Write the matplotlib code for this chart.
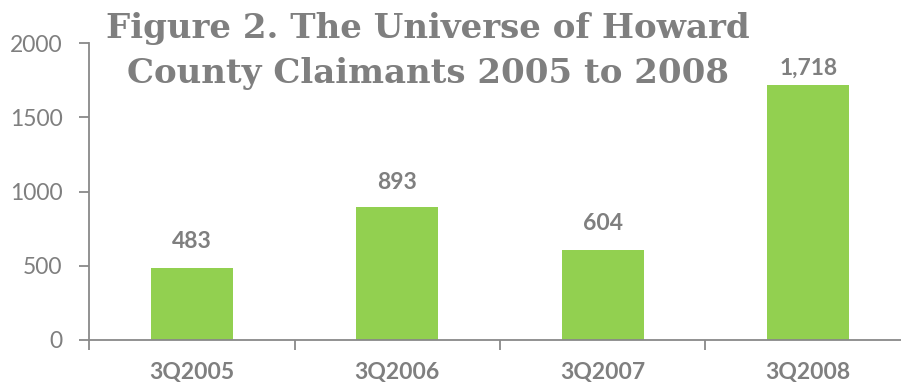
import matplotlib
matplotlib.use("Agg")
import matplotlib.pyplot as plt
import numpy as np

quarters = ['3Q2005', '3Q2006', '3Q2007', '3Q2008']
claimants = [483, 893, 604, 1718]
label_offsets = [19, 18, 19, 12]   # points above each bar top

grey = '#7f7f7f'
axis_grey = '#898989'
bar_green = '#92D050'

plt.rcParams['font.family'] = ['Lato', 'DejaVu Sans']

fig = plt.figure(figsize=(9.01, 3.85), dpi=100)
ax = fig.add_axes([89 / 901, 45 / 385, 822 / 901, 297 / 385])

x = np.arange(len(quarters))
ax.bar(x, claimants, width=0.4, color=bar_green, zorder=2)

for xi, v, off in zip(x, claimants, label_offsets):
    ax.annotate(f'{v:,}', (xi, v), xytext=(0, off), textcoords='offset points',
                ha='center', va='center', fontsize=16.5, fontweight='bold', color=grey)

ax.set_xlim(-0.5, len(quarters) - 0.5)
ax.set_ylim(0, 2000)
ax.set_yticks([0, 500, 1000, 1500, 2000])
ax.set_xticks(x)
ax.set_xticklabels(quarters, fontsize=16.5, fontweight='bold', color=grey)
ax.set_xticks(np.arange(len(quarters) + 1) - 0.5, minor=True)
ax.tick_params(axis='x', which='major', length=0, pad=16)
ax.tick_params(axis='x', which='minor', length=7, width=1.3, color=axis_grey, direction='out')
ax.tick_params(axis='y', length=7, width=1.3, color=axis_grey, labelsize=16.5,
               labelcolor=grey, pad=12)

for side in ['top', 'right']:
    ax.spines[side].set_visible(False)
for side in ['left', 'bottom']:
    ax.spines[side].set_color(axis_grey)
    ax.spines[side].set_linewidth(1.3)

fig.text(428 / 901, 1 - 51 / 385, 'Figure 2. The Universe of Howard\nCounty Claimants 2005 to 2008',
         ha='center', va='center', fontsize=24.5, fontweight='bold', color=grey,
         family='DejaVu Serif', linespacing=1.45)

fig.savefig('out.png', dpi=100)
